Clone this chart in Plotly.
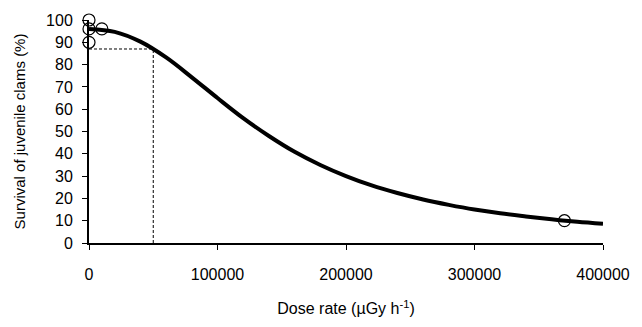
import plotly.graph_objects as go

# Fitted survival curve
curve_dose = [0, 20000, 40000, 60000, 80000, 100000, 120000, 140000, 160000, 180000,
              200000, 220000, 240000, 260000, 280000, 300000, 320000, 340000, 360000,
              380000, 400000]
curve_surv = [96.0, 94.7, 90.3, 83.2, 74.3, 65.0, 56.0, 48.0, 40.9, 35.0,
              30.0, 25.8, 22.4, 19.5, 17.1, 15.0, 13.3, 11.9, 10.6, 9.5, 8.6]

# Observed data points
obs_dose = [0, 0, 0, 10000, 370000]
obs_surv = [100, 96, 90, 96, 10]

# Reference dose (dashed guide)
ref_dose = 50000
ref_surv = 87

fig = go.Figure()
fig.add_trace(go.Scatter(
    x=[ref_dose, ref_dose], y=[0, ref_surv], mode="lines",
    line=dict(color="black", width=1, dash="3px,2px"), cliponaxis=False, showlegend=False))
fig.add_trace(go.Scatter(
    x=[0, ref_dose], y=[ref_surv, ref_surv], mode="lines",
    line=dict(color="black", width=1, dash="3px,2px"), cliponaxis=False, showlegend=False))
fig.add_trace(go.Scatter(
    x=curve_dose, y=curve_surv, mode="lines", line_shape="spline",
    line=dict(color="black", width=4), cliponaxis=False, showlegend=False))
fig.add_trace(go.Scatter(
    x=obs_dose, y=obs_surv, mode="markers",
    marker=dict(symbol="circle-open", size=12, color="black", line=dict(width=1.2, color="black")),
    cliponaxis=False, showlegend=False))

font = "Liberation Sans, Arial, sans-serif"
fig.update_layout(
    width=642, height=327,
    margin=dict(l=89, r=39, t=13, b=83),
    plot_bgcolor="white", paper_bgcolor="white",
    font=dict(family=font, size=16, color="black"),
    xaxis=dict(
        range=[0, 400000], tickvals=[0, 100000, 200000, 300000, 400000],
        ticktext=["0", "100000", "200000", "300000", "400000"],
        showline=True, linecolor="black", linewidth=2, ticks="outside", ticklen=5,
        tickcolor="black", tickwidth=1, showgrid=False, zeroline=False,
        ticklabelstandoff=11,
        title=dict(text="Dose rate (µGy h<sup>-1</sup>)", font=dict(size=16), standoff=21),
    ),
    yaxis=dict(
        range=[0, 100], dtick=10, showline=True, linecolor="black", linewidth=2,
        ticks="outside", ticklen=5, tickcolor="black", tickwidth=1,
        showgrid=False, zeroline=False, ticklabelstandoff=6,
        title=dict(text="Survival of juvenile clams (%)", font=dict(size=15), standoff=17),
    ),
)
fig.write_html("out.html")
